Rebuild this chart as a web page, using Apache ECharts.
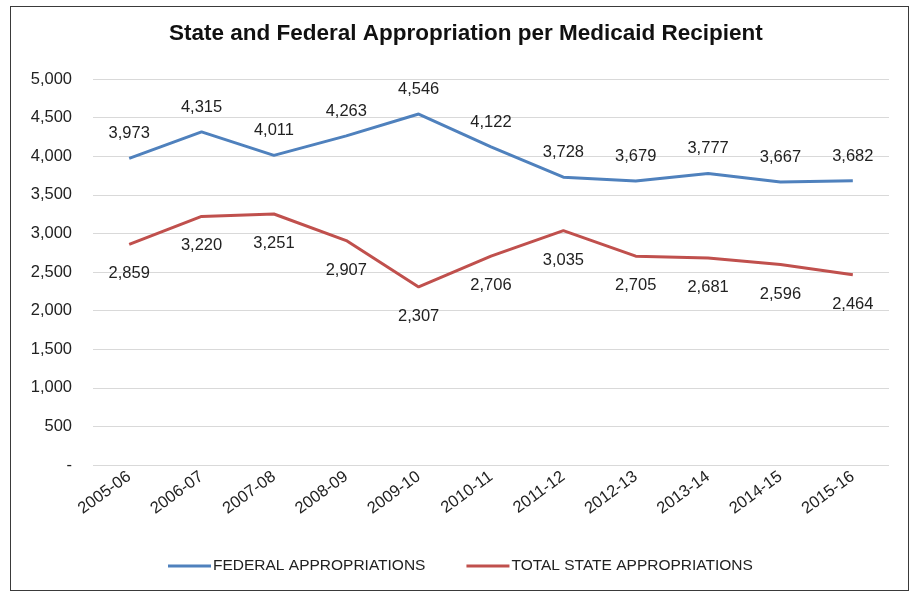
<!DOCTYPE html>
<html>
<head>
<meta charset="utf-8">
<script src="https://cdn.jsdelivr.net/npm/echarts@6/dist/echarts.min.js"></script>
<style>
html,body{margin:0;padding:0;background:#fff;}
#frame{position:absolute;left:10px;top:6px;width:897px;height:583px;border:1px solid #3a3a3a;}
#chart{position:absolute;left:0;top:0;width:915px;height:594px;}
</style>
</head>
<body>
<div id="frame"></div>
<div id="chart"></div>
<script>
const categories = ['2005-06','2006-07','2007-08','2008-09','2009-10','2010-11','2011-12','2012-13','2013-14','2014-15','2015-16'];
const federal = [3973, 4315, 4011, 4263, 4546, 4122, 3728, 3679, 3777, 3667, 3682];
const stateTotal = [2859, 3220, 3251, 2907, 2307, 2706, 3035, 2705, 2681, 2596, 2464];
const yTicks = [0, 500, 1000, 1500, 2000, 2500, 3000, 3500, 4000, 4500, 5000];
const yTickLabels = ['-', '500', '1,000', '1,500', '2,000', '2,500', '3,000', '3,500', '4,000', '4,500', '5,000'];
const seriesNames = ['FEDERAL APPROPRIATIONS', 'TOTAL STATE APPROPRIATIONS'];

const FONT = '"Liberation Sans", Arial, sans-serif';
const fmt = v => Number(v).toLocaleString('en-US');

const chart = echarts.init(document.getElementById('chart'), null, {renderer: 'canvas'});
chart.setOption({
  animation: false,
  backgroundColor: 'transparent',
  title: {
    text: 'State and Federal Appropriation per Medicaid Recipient',
    left: 164,
    top: 17,
    textStyle: {fontFamily: FONT, fontSize: 22.5, fontWeight: 'bold', color: '#111'}
  },
  legend: {
    data: seriesNames,
    left: 163,
    top: 553,
    itemWidth: 43,
    itemHeight: 3,
    itemGap: 41,
    icon: 'rect',
    textStyle: {fontFamily: FONT, fontSize: 15.5, color: '#222', padding: [0, 0, 0, -3]}
  },
  grid: {left: 93, right: 26, top: 79, bottom: 129},
  xAxis: {
    type: 'category',
    data: categories,
    boundaryGap: true,
    axisLine: {show: false},
    axisTick: {show: false},
    axisLabel: {rotate: 36, fontFamily: FONT, fontSize: 16.5, color: '#222', margin: 10, interval: 0}
  },
  yAxis: {
    type: 'value',
    min: yTicks[0],
    max: yTicks[yTicks.length - 1],
    interval: yTicks[1] - yTicks[0],
    axisLine: {show: false},
    axisTick: {show: false},
    splitLine: {lineStyle: {color: '#d9d9d9', width: 1}},
    axisLabel: {
      fontFamily: FONT, fontSize: 16.5, color: '#222', margin: 21,
      formatter: v => yTickLabels[yTicks.indexOf(v)]
    }
  },
  series: [
    {
      name: seriesNames[0],
      type: 'line',
      data: federal,
      symbol: 'circle',
      symbolSize: 0,
      showSymbol: true,
      lineStyle: {color: '#4f81bd', width: 3},
      itemStyle: {color: '#4f81bd'},
      label: {show: true, position: 'top', distance: 16, fontFamily: FONT, fontSize: 16.5, color: '#222', formatter: p => fmt(p.value)}
    },
    {
      name: seriesNames[1],
      type: 'line',
      data: stateTotal,
      symbol: 'circle',
      symbolSize: 0,
      showSymbol: true,
      lineStyle: {color: '#c0504d', width: 3},
      itemStyle: {color: '#c0504d'},
      label: {show: true, position: 'bottom', distance: 21, fontFamily: FONT, fontSize: 16.5, color: '#222', formatter: p => fmt(p.value)}
    }
  ]
});
</script>
</body>
</html>
